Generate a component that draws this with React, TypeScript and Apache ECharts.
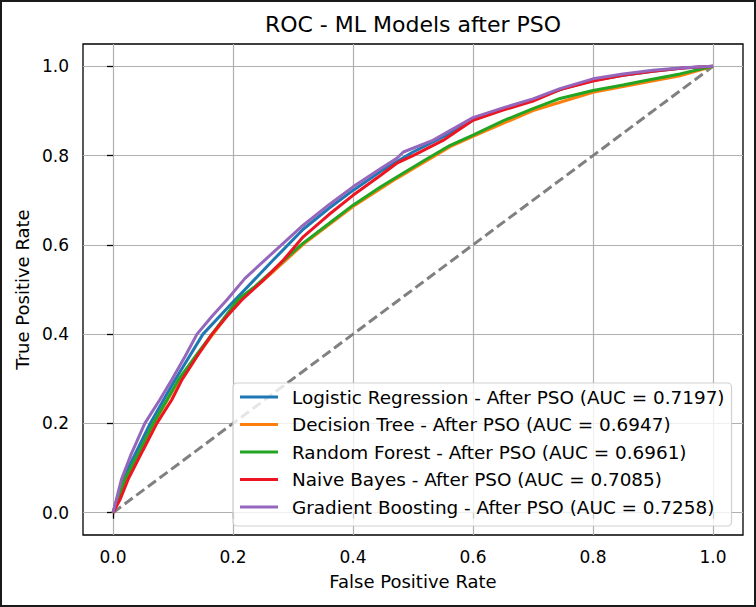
import React, { useEffect, useRef } from "react";
import * as echarts from "echarts";

const titleText = "ROC - ML Models after PSO";
const xAxisName = "False Positive Rate";
const yAxisName = "True Positive Rate";
const tickValues = [0, 0.2, 0.4, 0.6, 0.8, 1.0];

const modelNames = [
  "Logistic Regression - After PSO (AUC = 0.7197)",
  "Decision Tree - After PSO (AUC = 0.6947)",
  "Random Forest - After PSO (AUC = 0.6961)",
  "Naive Bayes - After PSO (AUC = 0.7085)",
  "Gradient Boosting - After PSO (AUC = 0.7258)",
];
const modelColors = ["#1f77b4", "#ff7f0e", "#22a522", "#ec1521", "#9467bd"];

const lrFpr = [0, 0.02, 0.062, 0.1, 0.15, 0.2, 0.267, 0.317, 0.36, 0.4, 0.45, 0.5, 0.55, 0.6, 0.65, 0.7, 0.75, 0.8, 0.85, 0.9, 0.95, 1];
const lrTpr = [0, 0.085, 0.2, 0.29, 0.4, 0.472, 0.566, 0.635, 0.682, 0.722, 0.768, 0.808, 0.842, 0.88, 0.905, 0.925, 0.95, 0.968, 0.98, 0.989, 0.996, 1];

const dtFpr = [0, 0.02, 0.045, 0.067, 0.11, 0.165, 0.208, 0.262, 0.317, 0.4, 0.473, 0.562, 0.6, 0.7, 0.8, 0.89, 0.945, 1];
const dtTpr = [0, 0.073, 0.138, 0.197, 0.297, 0.397, 0.473, 0.534, 0.601, 0.686, 0.749, 0.82, 0.843, 0.901, 0.942, 0.965, 0.979, 1];

const rfFpr = [0, 0.02, 0.045, 0.067, 0.09, 0.11, 0.14, 0.165, 0.19, 0.208, 0.235, 0.262, 0.29, 0.317, 0.36, 0.4, 0.445, 0.473, 0.52, 0.562, 0.6, 0.65, 0.7, 0.745, 0.8, 0.85, 0.89, 0.945, 1];
const rfTpr = [0, 0.075, 0.14, 0.2, 0.253, 0.3, 0.355, 0.4, 0.445, 0.477, 0.505, 0.537, 0.572, 0.604, 0.648, 0.689, 0.729, 0.752, 0.79, 0.823, 0.846, 0.878, 0.905, 0.928, 0.946, 0.958, 0.969, 0.983, 1];

const nbFpr = [0, 0.012, 0.025, 0.05, 0.073, 0.098, 0.115, 0.14, 0.165, 0.19, 0.215, 0.25, 0.284, 0.317, 0.36, 0.4, 0.445, 0.473, 0.5, 0.55, 0.6, 0.65, 0.7, 0.745, 0.8, 0.85, 0.9, 0.95, 1];
const nbTpr = [0, 0.03, 0.074, 0.14, 0.2, 0.253, 0.298, 0.35, 0.4, 0.44, 0.477, 0.52, 0.566, 0.618, 0.668, 0.711, 0.755, 0.783, 0.8, 0.834, 0.879, 0.902, 0.922, 0.948, 0.967, 0.98, 0.989, 0.996, 1];

const gbFpr = [0, 0.014, 0.03, 0.053, 0.078, 0.098, 0.12, 0.14, 0.165, 0.19, 0.22, 0.253, 0.285, 0.317, 0.36, 0.4, 0.445, 0.473, 0.484, 0.533, 0.6, 0.65, 0.7, 0.745, 0.8, 0.85, 0.9, 0.95, 1];
const gbTpr = [0, 0.074, 0.13, 0.2, 0.253, 0.298, 0.35, 0.4, 0.44, 0.477, 0.525, 0.566, 0.605, 0.644, 0.69, 0.73, 0.77, 0.794, 0.808, 0.834, 0.885, 0.907, 0.927, 0.95, 0.972, 0.983, 0.991, 0.997, 1];

const chanceFpr = [0, 1];
const chanceTpr = [0, 1];

const fprList = [lrFpr, dtFpr, rfFpr, nbFpr, gbFpr];
const tprList = [lrTpr, dtTpr, rfTpr, nbTpr, gbTpr];

const FONT = "DejaVu Sans";

export default function App() {
  const ref = useRef<HTMLDivElement>(null);
  useEffect(() => {
    document.body.style.margin = "0";
    const chart = echarts.init(ref.current as HTMLDivElement, null, { renderer: "svg" });
    const pairs = (xs: number[], ys: number[]) => xs.map((x, i) => [x, ys[i]]);
    const curveSeries = modelNames.map((name, i) => ({
      name,
      type: "line",
      data: pairs(fprList[i], tprList[i]),
      showSymbol: false,
      symbol: "none",
      smooth: false,
      lineStyle: { color: modelColors[i], width: 3 },
      itemStyle: { color: modelColors[i] },
      z: 3 + i,
    }));
    const axisCommon = {
      type: "value",
      min: -0.05,
      max: 1.05,
      axisLine: { show: false },
      axisTick: {
        show: true,
        length: 6,
        customValues: tickValues,
        lineStyle: { color: "#000", width: 1.3 },
      },
      splitLine: { show: true, lineStyle: { color: "#b0b0b0", width: 1.2 } },
      nameLocation: "middle",
      nameTextStyle: { fontFamily: FONT, fontSize: 18, color: "#000" },
    };
    chart.setOption({
      animation: false,
      backgroundColor: "#ffffff",
      title: {
        text: titleText,
        left: 413,
        top: 13,
        padding: 0,
        textAlign: "center",
        textStyle: { fontFamily: FONT, fontSize: 22, fontWeight: "normal", color: "#000" },
      },
      grid: {
        left: 83,
        top: 44,
        width: 660,
        height: 491,
        show: true,
        borderColor: "#000",
        borderWidth: 1.3,
        backgroundColor: "transparent",
        containLabel: false,
      },
      xAxis: {
        ...axisCommon,
        name: xAxisName,
        nameGap: 37,
        axisLabel: {
          customValues: tickValues,
          formatter: (v: number) => v.toFixed(1),
          margin: 13,
          fontFamily: FONT,
          fontSize: 17,
          color: "#000",
        },
      },
      yAxis: {
        ...axisCommon,
        name: yAxisName,
        nameGap: 47,
        axisLabel: {
          customValues: tickValues,
          formatter: (v: number) => v.toFixed(1),
          margin: 14,
          fontFamily: FONT,
          fontSize: 17,
          color: "#000",
        },
      },
      legend: {
        data: modelNames,
        orient: "vertical",
        left: 233,
        top: 383,
        padding: [5, 7, 10, 7],
        itemGap: 9.5,
        itemWidth: 38,
        itemHeight: 3,
        icon: "rect",
        backgroundColor: "rgba(255,255,255,0.8)",
        borderColor: "rgba(204,204,204,0.9)",
        borderWidth: 1.2,
        borderRadius: 4,
        selectedMode: false,
        textStyle: {
          fontFamily: FONT,
          fontSize: 18.4,
          lineHeight: 18,
          color: "#000",
          padding: [0, 0, 0, 9],
        },
      },
      series: [
        ...curveSeries,
        {
          name: "chance",
          type: "line",
          data: pairs(chanceFpr, chanceTpr),
          symbol: "none",
          showSymbol: false,
          lineStyle: { color: "#808080", width: 3, type: [10, 4.5] },
          z: 2,
        },
      ],
      graphic: [
        {
          type: "rect",
          shape: { x: 1, y: 1, width: 754, height: 605 },
          style: { fill: "none", stroke: "#1a1a1a", lineWidth: 2 },
          silent: true,
          z: 100,
        },
      ],
    });
    return () => chart.dispose();
  }, []);
  return <div ref={ref} style={{ width: 756, height: 607, position: "fixed", left: 0, top: 0 }} />;
}
